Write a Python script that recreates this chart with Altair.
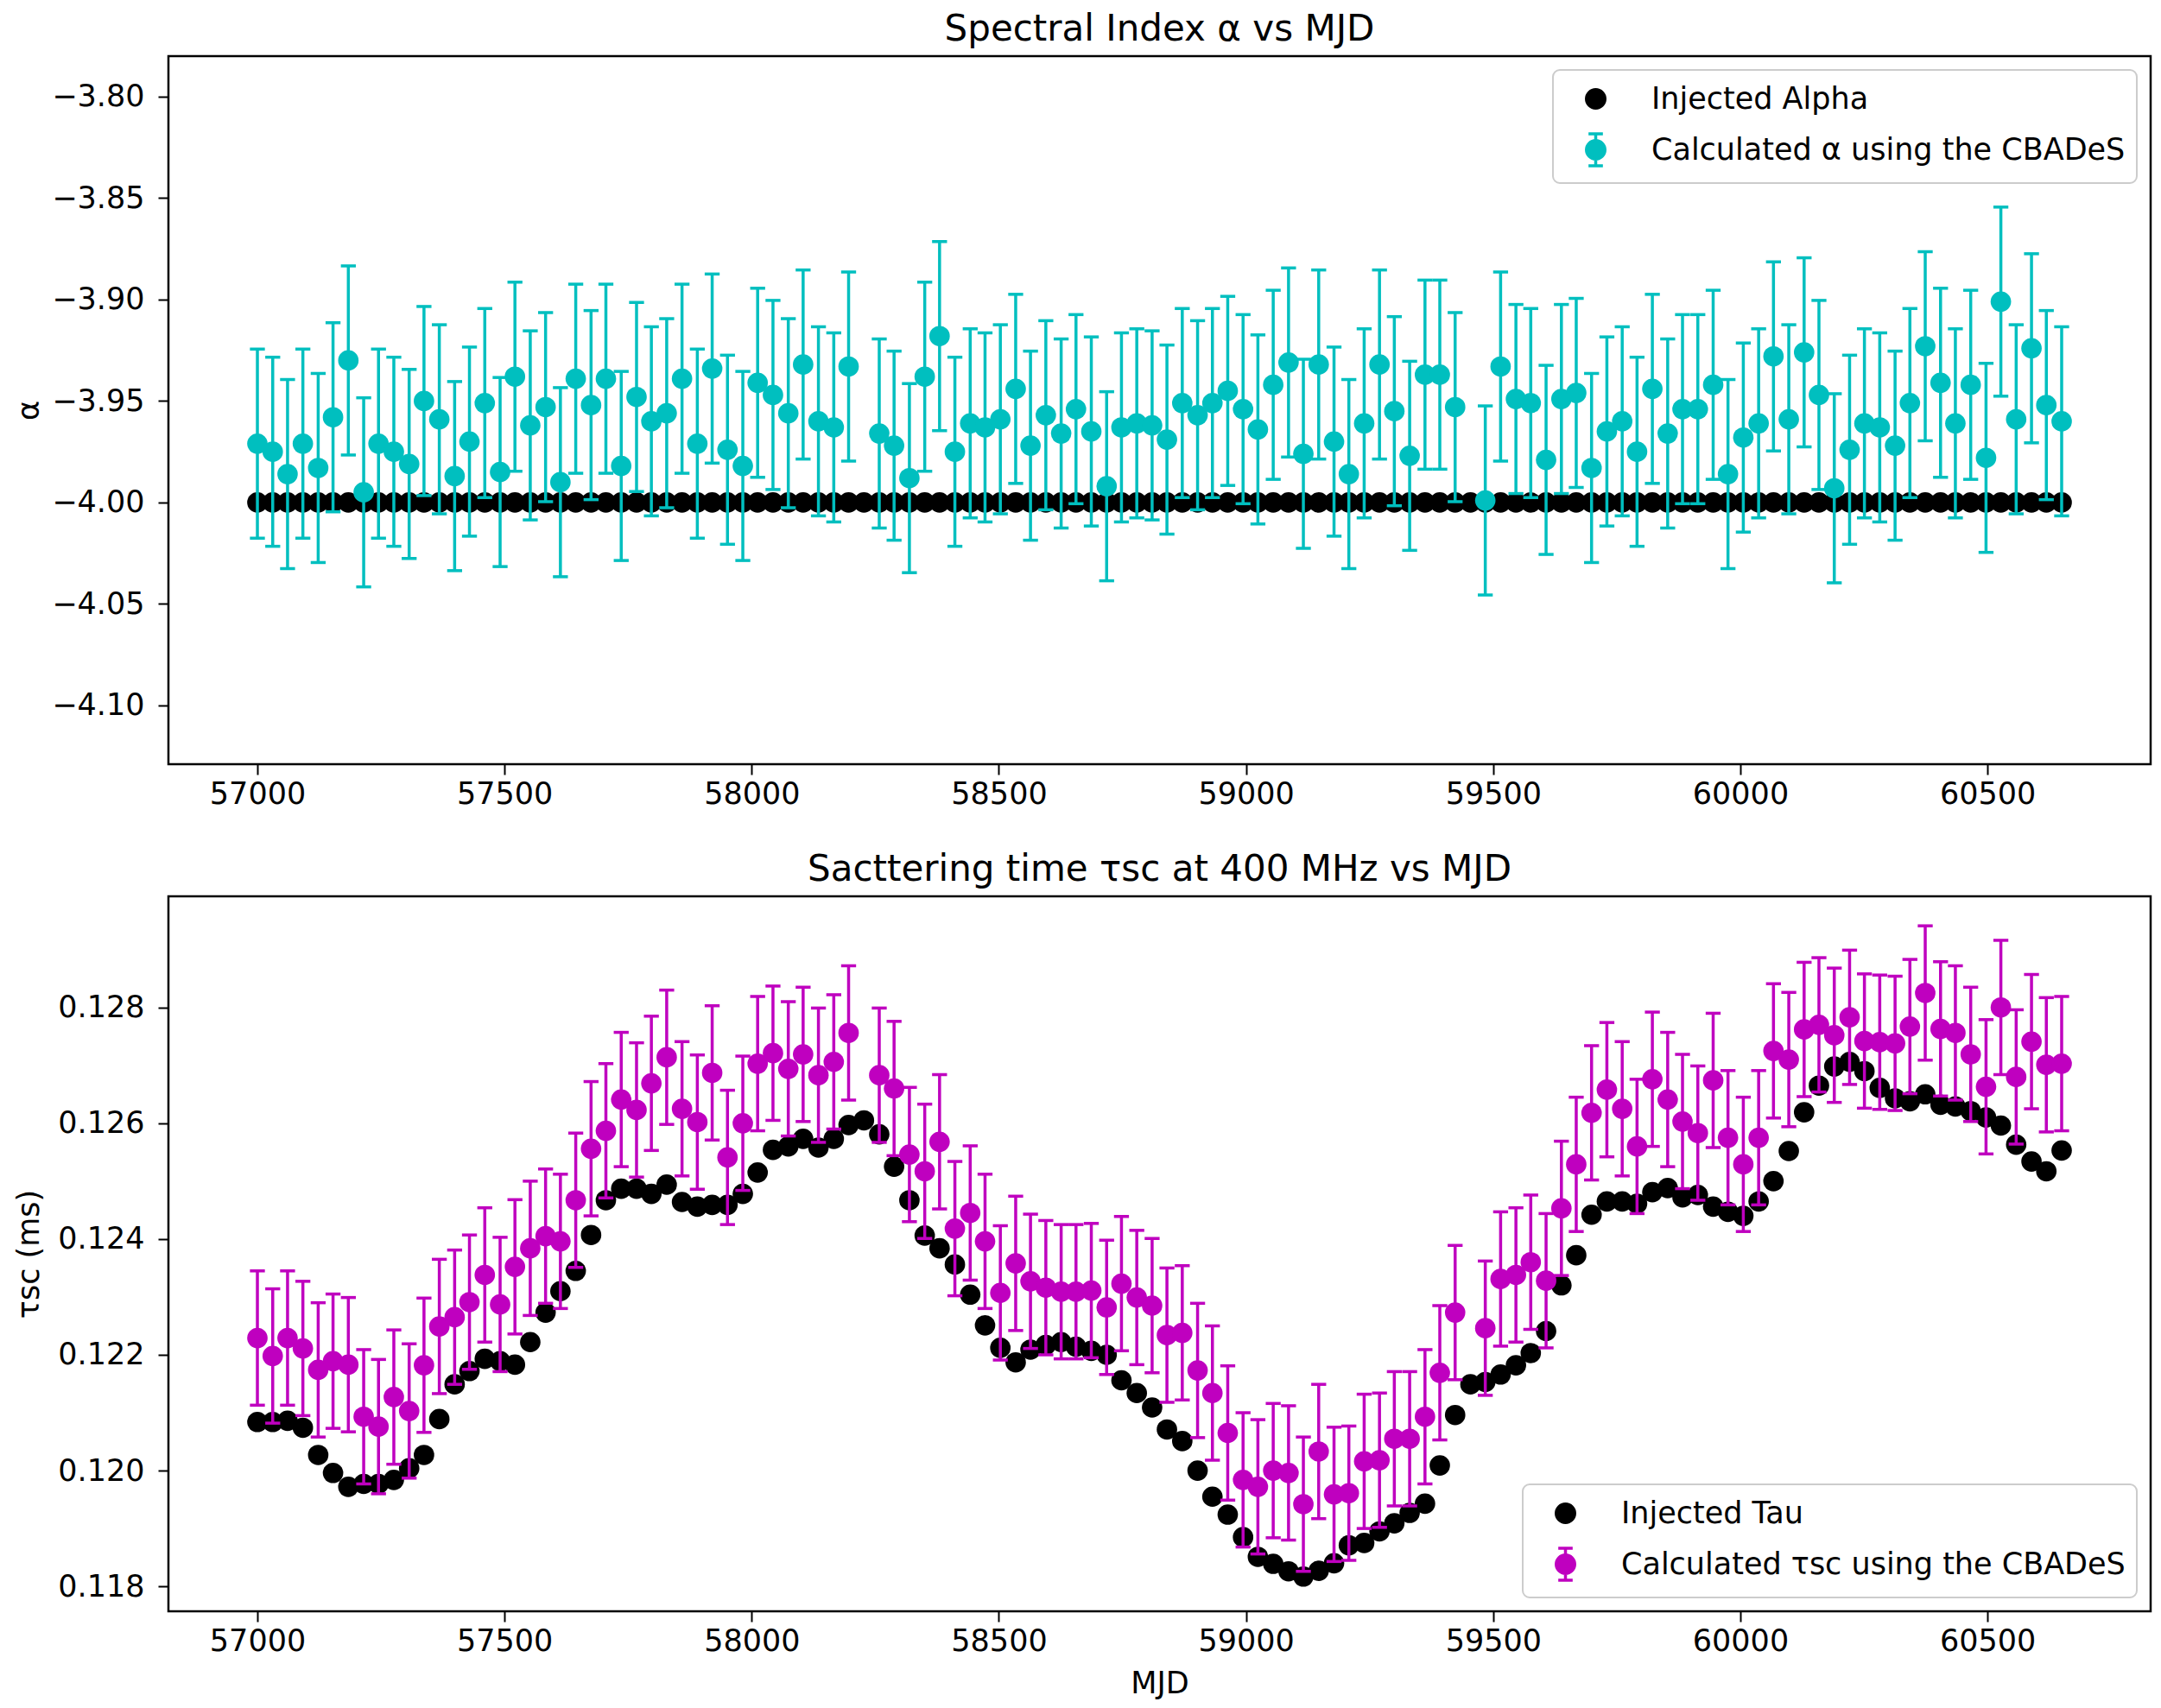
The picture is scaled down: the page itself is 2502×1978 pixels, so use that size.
import altair as alt
import pandas as pd

# ---------------- data ----------------
MJD = [57000, 57031, 57061, 57092, 57123, 57153, 57184, 57215, 57245, 57276,
       57307, 57337, 57368, 57399, 57429, 57460, 57491, 57521, 57552, 57583,
       57613, 57644, 57675, 57705, 57736, 57767, 57797, 57828, 57859, 57890,
       57920, 57951, 57982, 58012, 58043, 58074, 58104, 58135, 58166, 58196,
       58227, 58258, 58288, 58319, 58350, 58380, 58411, 58442, 58472, 58503,
       58534, 58564, 58595, 58626, 58656, 58687, 58718, 58748, 58779, 58810,
       58840, 58871, 58902, 58932, 58963, 58994, 59024, 59055, 59086, 59116,
       59147, 59178, 59208, 59239, 59270, 59300, 59331, 59362, 59392, 59423,
       59454, 59484, 59515, 59546, 59576, 59607, 59638, 59668, 59699, 59730,
       59761, 59791, 59822, 59853, 59883, 59914, 59945, 59975, 60006, 60037,
       60067, 60098, 60129, 60159, 60190, 60221, 60251, 60282, 60313, 60343,
       60374, 60405, 60435, 60466, 60497, 60527, 60558, 60589, 60619, 60650]

INJECTED_ALPHA = [-4.00] * len(MJD)

CALC_ALPHA = [-3.971, -3.975, -3.986, -3.971, -3.983, -3.958, -3.930, -3.995, -3.971, -3.975,
              -3.981, -3.950, -3.959, -3.987, -3.970, -3.951, -3.985, -3.938, -3.962, -3.953,
              -3.990, -3.939, -3.952, -3.939, -3.982, -3.948, -3.960, -3.956, -3.939, -3.971,
              -3.934, -3.974, -3.982, -3.941, -3.947, -3.956, -3.932, -3.960, -3.963, -3.933,
              None, -3.966, -3.972, -3.988, -3.938, -3.918, -3.975, -3.961, -3.963, -3.959,
              -3.944, -3.972, -3.957, -3.966, -3.954, -3.965, -3.992, -3.963, -3.961, -3.962,
              -3.969, -3.951, -3.957, -3.951, -3.945, -3.954, -3.964, -3.942, -3.931, -3.976,
              -3.932, -3.970, -3.986, -3.961, -3.932, -3.955, -3.977, -3.937, -3.937, -3.953,
              None, -3.999, -3.933, -3.949, -3.951, -3.979, -3.949, -3.946, -3.983, -3.965,
              -3.960, -3.975, -3.944, -3.966, -3.954, -3.954, -3.942, -3.986, -3.968, -3.961,
              -3.928, -3.959, -3.926, -3.947, -3.993, -3.974, -3.961, -3.963, -3.972, -3.951,
              -3.923, -3.941, -3.961, -3.942, -3.978, -3.901, -3.959, -3.924, -3.952, -3.960]
ALPHA_ERR = 0.0466

INJECTED_TAU = [0.12084, 0.12084, 0.12086, 0.12074, 0.12027, 0.11996, 0.11972, 0.11977, 0.11977, 0.11984,
                0.12004, 0.12027, 0.12089, 0.12149, 0.12172, 0.12193, 0.12189, 0.12183, 0.12222, 0.12273,
                0.12310, 0.12345, 0.12407, 0.12467, 0.12487, 0.12487, 0.12478, 0.12494, 0.12464, 0.12456,
                0.12459, 0.12459, 0.12478, 0.12515, 0.12554, 0.12560, 0.12573, 0.12558, 0.12573, 0.12597,
                0.12605, 0.12581, 0.12525, 0.12467, 0.12406, 0.12384, 0.12356, 0.12304, 0.12251, 0.12212,
                0.12187, 0.12209, 0.12217, 0.12222, 0.12214, 0.12207, 0.12200, 0.12156, 0.12134, 0.12109,
                0.12071, 0.12051, 0.12000, 0.11955, 0.11924, 0.11885, 0.11851, 0.11839, 0.11826, 0.11817,
                0.11827, 0.11840, 0.11871, 0.11875, 0.11895, 0.11909, 0.11927, 0.11943, 0.12009, 0.12096,
                0.12149, 0.12153, 0.12166, 0.12182, 0.12203, 0.12241, 0.12320, 0.12372, 0.12442, 0.12465,
                0.12465, 0.12461, 0.12481, 0.12488, 0.12472, 0.12476, 0.12456, 0.12447, 0.12440, 0.12465,
                0.12500, 0.12552, 0.12619, 0.12665, 0.12698, 0.12706, 0.12690, 0.12661, 0.12643, 0.12638,
                0.12650, 0.12632, 0.12629, 0.12621, 0.12610, 0.12596, 0.12563, 0.12534, 0.12517, 0.12553]

CALC_TAU = [0.12229, 0.12198, 0.12229, 0.12211, 0.12174, 0.12189, 0.12183, 0.12093, 0.12076, 0.12127,
            0.12103, 0.12182, 0.12249, 0.12265, 0.12291, 0.12338, 0.12287, 0.12352, 0.12384, 0.12405,
            0.12396, 0.12467, 0.12556, 0.12587, 0.12641, 0.12623, 0.12669, 0.12714, 0.12625, 0.12602,
            0.12687, 0.12541, 0.12600, 0.12703, 0.12721, 0.12694, 0.12719, 0.12683, 0.12706, 0.12756,
            None, 0.12683, 0.12660, 0.12546, 0.12517, 0.12568, 0.12418, 0.12445, 0.12396, 0.12307,
            0.12358, 0.12327, 0.12316, 0.12309, 0.12309, 0.12311, 0.12282, 0.12323, 0.12299, 0.12285,
            0.12234, 0.12238, 0.12173, 0.12134, 0.12065, 0.11984, 0.11972, 0.12000, 0.11996, 0.11942,
            0.12033, 0.11959, 0.11961, 0.12016, 0.12018, 0.12055, 0.12055, 0.12093, 0.12169, 0.12273,
            None, 0.12246, 0.12331, 0.12338, 0.12360, 0.12328, 0.12453, 0.12529, 0.12618, 0.12658,
            0.12625, 0.12560, 0.12676, 0.12641, 0.12603, 0.12583, 0.12674, 0.12575, 0.12529, 0.12575,
            0.12725, 0.12710, 0.12762, 0.12770, 0.12752, 0.12783, 0.12742, 0.12740, 0.12738, 0.12767,
            0.12825, 0.12763, 0.12756, 0.12719, 0.12663, 0.12800, 0.12680, 0.12741, 0.12701, 0.12703]
TAU_ERR = 0.00116

X_TICKS = [57000, 57500, 58000, 58500, 59000, 59500, 60000, 60500]
ALPHA_TICKS = [-4.10, -4.05, -4.00, -3.95, -3.90, -3.85, -3.80]
TAU_TICKS = [0.118, 0.120, 0.122, 0.124, 0.126, 0.128]

ALPHA_NAMES = ["Injected Alpha", "Calculated α using the CBADeS"]
TAU_NAMES = ["Injected Tau", "Calculated τsc using the CBADeS"]

CYAN = "#00BFBF"
MAGENTA = "#BF00BF"
FONT = "DejaVu Sans"

CAP_PATH = "M-1,0L1,0"
LEG_DOT = "M0,-0.58A0.58,0.58,0,1,1,0,0.58A0.58,0.58,0,1,1,0,-0.58Z"
LEG_ERR = ("M0,-0.58A0.58,0.58,0,1,1,0,0.58A0.58,0.58,0,1,1,0,-0.58Z"
           "M0,-1L0,1M-0.45,-1L0.45,-1M-0.45,1L0.45,1")


def make_df(inj, calc, err):
    df = pd.DataFrame({"mjd": MJD, "inj": inj,
                       "calc": pd.Series(calc, dtype="float64")})
    df["lo"] = df["calc"] - err
    df["hi"] = df["calc"] + err
    return df


def panel(df, names, col, ydom, yticks, yfmt, ytitle, title, orient, height, xtitle):
    x_enc = alt.X("mjd:Q",
                  scale=alt.Scale(domain=[56820, 60830], nice=False, zero=False),
                  axis=alt.Axis(values=X_TICKS, format="d", title=xtitle))

    def y_enc(field):
        return alt.Y(f"{field}:Q",
                     scale=alt.Scale(domain=ydom, nice=False, zero=False),
                     axis=alt.Axis(values=yticks,
                                   labelExpr=f"replace(format(datum.value, '{yfmt}'), '-', '\u2212')",
                                   title=ytitle, titleX=-162, titleBaseline="middle"))

    base = alt.Chart(df)
    inj = base.mark_circle(size=560, color="black", opacity=1).encode(x=x_enc, y=y_enc("inj"))
    valid = base.transform_filter("isValid(datum.calc) && isFinite(datum.calc)")
    bars = valid.mark_rule(color=col, strokeWidth=3.5, opacity=1).encode(
        x=x_enc, y=y_enc("lo"), y2="hi:Q")
    cap_lo = valid.mark_point(shape=CAP_PATH, filled=False, size=300, strokeWidth=3.5,
                              color=col, opacity=1).encode(x=x_enc, y=y_enc("lo"))
    cap_hi = valid.mark_point(shape=CAP_PATH, filled=False, size=300, strokeWidth=3.5,
                              color=col, opacity=1).encode(x=x_enc, y=y_enc("hi"))
    pts = valid.mark_circle(size=560, color=col, opacity=1).encode(x=x_enc, y=y_enc("calc"))

    leg_kw = dict(orient=orient, title=None)
    col_scale = alt.Scale(domain=names, range=["black", col])
    leg = (base.transform_filter("datum.mjd < 0")
           .transform_calculate(series="'none'")
           .mark_point(filled=True, opacity=1)
           .encode(
               fill=alt.Fill("series:N", scale=col_scale, legend=alt.Legend(**leg_kw)),
               stroke=alt.Stroke("series:N", scale=col_scale, legend=alt.Legend(**leg_kw)),
               shape=alt.Shape("series:N",
                               scale=alt.Scale(domain=names, range=[LEG_DOT, LEG_ERR]),
                               legend=alt.Legend(**leg_kw)),
           ))

    return alt.layer(inj, bars, cap_lo, cap_hi, pts, leg).properties(
        width=2295, height=height,
        title=alt.Title(title, anchor="middle", fontSize=42, font=FONT,
                        fontWeight="normal", color="black", offset=9),
    )


df_alpha = make_df(INJECTED_ALPHA, CALC_ALPHA, ALPHA_ERR)
df_tau = make_df(INJECTED_TAU, CALC_TAU, TAU_ERR)

top = panel(df_alpha, ALPHA_NAMES, CYAN, [-4.129, -3.780], ALPHA_TICKS, ".2f",
            "α", "Spectral Index α vs MJD", "top-right", 820, None)
bottom = panel(df_tau, TAU_NAMES, MAGENTA, [0.11757, 0.12992], TAU_TICKS, ".3f",
               "τsc (ms)", "Sacttering time τsc at 400 MHz vs MJD", "bottom-right", 828, "MJD")

chart = (
    alt.vconcat(top, bottom, spacing=45)
    .resolve_scale(fill="independent", stroke="independent", shape="independent")
    .resolve_legend(fill="independent", stroke="independent", shape="independent")
    .properties(padding={"left": 6, "top": 3, "right": 0, "bottom": 0})
    .configure_view(stroke="black", strokeWidth=2.5)
    .configure_axis(domain=False, grid=False, ticks=True, tickColor="black", tickWidth=2,
                    tickSize=12, labelFont=FONT, labelFontSize=35, labelColor="black",
                    titleFont=FONT, titleFontSize=35, titleFontWeight="normal",
                    titleColor="black")
    .configure_axisX(labelPadding=5, titlePadding=14)
    .configure_axisY(labelPadding=16)
    .configure_legend(labelFont=FONT, labelFontSize=35, labelColor="black", labelLimit=2000,
                      strokeColor="#cccccc", strokeWidth=2, cornerRadius=8,
                      fillColor="rgba(255,255,255,0.8)", padding=13, offset=16,
                      symbolSize=1369, symbolStrokeWidth=3.5, rowPadding=15,
                      labelOffset=44, symbolOffset=16)
)

chart.save("out.html", embed_options={"renderer": "svg", "actions": False})
